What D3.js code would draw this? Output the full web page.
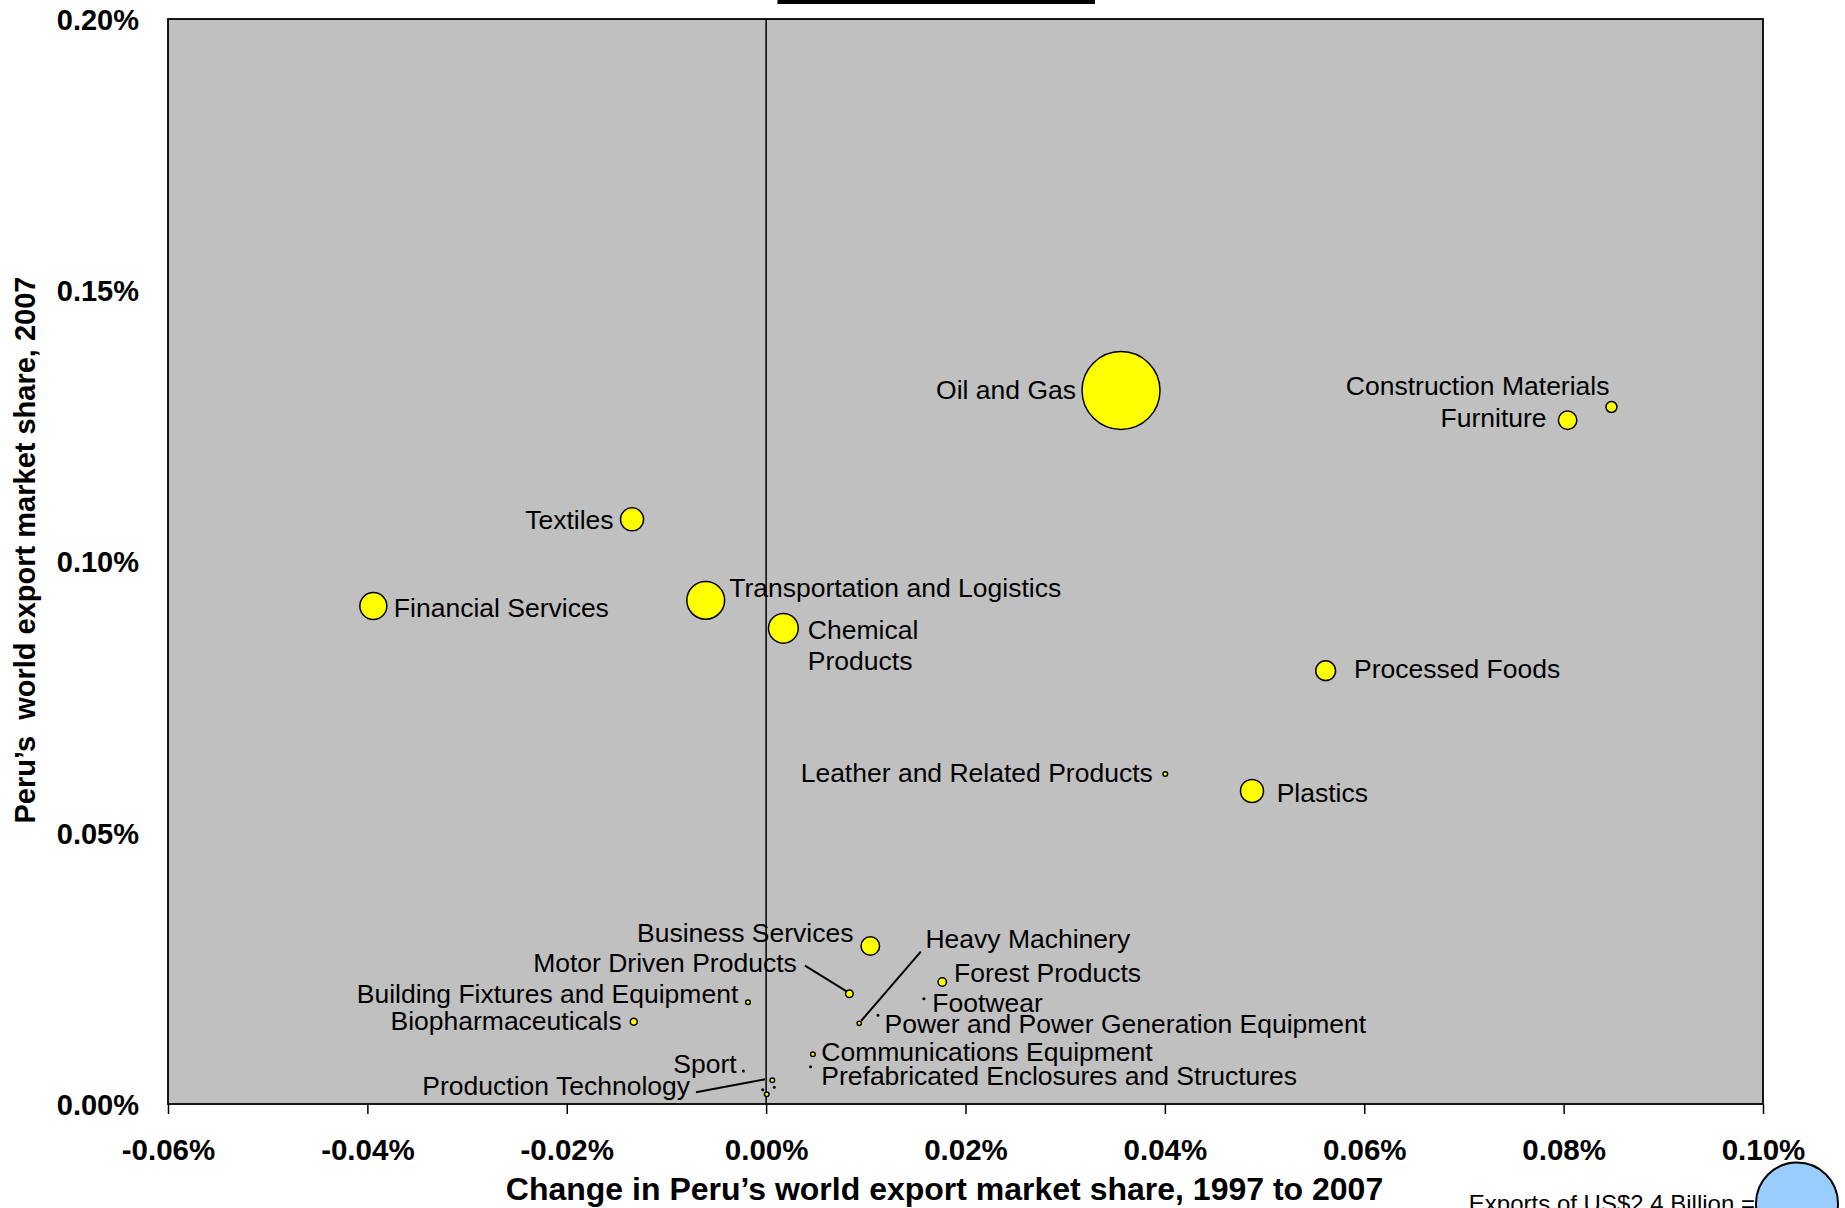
<!DOCTYPE html>
<html>
<head>
<meta charset="utf-8">
<script src="https://cdn.jsdelivr.net/npm/d3@7/dist/d3.min.js"></script>
<style>
  html, body { margin: 0; padding: 0; background: #ffffff; }
  svg { display: block; font-family: "Liberation Sans", Arial, sans-serif; }
</style>
</head>
<body>
<svg id="chart" width="1845" height="1208"></svg>
<script>
// Peru cluster bubble chart: 2007 world export share vs. change 1997-2007,
// bubble area proportional to exports (US$ billion).
const sectors = [
  "Oil and Gas", "Construction Materials", "Furniture", "Textiles",
  "Financial Services", "Transportation and Logistics", "Chemical Products",
  "Processed Foods", "Leather and Related Products", "Plastics",
  "Business Services", "Heavy Machinery", "Motor Driven Products",
  "Forest Products", "Footwear", "Power and Power Generation Equipment",
  "Communications Equipment", "Prefabricated Enclosures and Structures",
  "Building Fixtures and Equipment", "Biopharmaceuticals", "Sport",
  "Production Technology", "", "", ""
];
// Change in world export market share, 1997 to 2007 (percentage points)
const shareChange = [
  0.0356, 0.0848, 0.0804, -0.01345,
  -0.0394, -0.00606, 0.00173,
  0.05613, 0.04004, 0.04874,
  0.01045, 0.00934, 0.00835,
  0.01767, 0.01583, 0.01122,
  0.00469, 0.00446,
  -0.00182, -0.01328, -0.00229,
  0.00062, 0.00082, -0.00034, 0.00006
];
// World export market share, 2007 (%)
const share2007 = [
  0.13152, 0.12848, 0.12603, 0.10778,
  0.0918, 0.09285, 0.08769,
  0.07987, 0.06083, 0.0577,
  0.02912, 0.01488, 0.02033,
  0.02249, 0.01941, 0.01635,
  0.00916, 0.00688,
  0.01875, 0.01517, 0.00608,
  0.00437, 0.00308, 0.00264, 0.00179
];
// Exports, US$ billion
const exportsBn = [
  2.17, 0.043, 0.121, 0.189,
  0.26, 0.51, 0.317,
  0.14, 0.0076, 0.189,
  0.123, 0.0063, 0.0206,
  0.0252, 0.0009, 0.0009,
  0.0075, 0.0009,
  0.0075, 0.0175, 0.0009,
  0.0075, 0.0009, 0.0009, 0.0075
];
const xTicks = [-0.06, -0.04, -0.02, 0.00, 0.02, 0.04, 0.06, 0.08, 0.10];
const yTicks = [0.00, 0.05, 0.10, 0.15, 0.20];
const legendValue = 2.4;

// Label placement relative to each bubble centre (px)
const labelLayout = {
  "Oil and Gas": { anchor: "end", dx: -45, dy: 8 },
  "Construction Materials": { anchor: "end", dx: -2, dy: -12 },
  "Furniture": { anchor: "end", dx: -21, dy: 6.5 },
  "Textiles": { anchor: "end", dx: -18.5, dy: 10 },
  "Financial Services": { anchor: "start", dx: 20.5, dy: 10.7 },
  "Transportation and Logistics": { anchor: "start", dx: 23.5, dy: -3 },
  "Chemical Products": { anchor: "start", dx: 24.5, dy: 10.7, wrap: true, lineGap: 31.5 },
  "Processed Foods": { anchor: "start", dx: 28.3, dy: 7.6 },
  "Leather and Related Products": { anchor: "end", dx: -12.5, dy: 7.7 },
  "Plastics": { anchor: "start", dx: 24.7, dy: 10.7 },
  "Business Services": { anchor: "end", dx: -16.8, dy: -4.3 },
  "Heavy Machinery": { anchor: "start", dx: 66.2, dy: -75, leader: [2, -2.5, 61.6, -71.6] },
  "Motor Driven Products": { anchor: "end", dx: -52.6, dy: -22, leader: [-44.4, -28, -2.3, -2] },
  "Forest Products": { anchor: "start", dx: 11.8, dy: -0.3 },
  "Footwear": { anchor: "start", dx: 8.4, dy: 13 },
  "Power and Power Generation Equipment": { anchor: "start", dx: 6.5, dy: 18 },
  "Communications Equipment": { anchor: "start", dx: 8.4, dy: 6.7 },
  "Prefabricated Enclosures and Structures": { anchor: "start", dx: 10.7, dy: 18.3 },
  "Building Fixtures and Equipment": { anchor: "end", dx: -9.7, dy: 1 },
  "Biopharmaceuticals": { anchor: "end", dx: -12, dy: 8.3 },
  "Sport": { anchor: "end", dx: -6.6, dy: 2.3 },
  "Production Technology": { anchor: "end", dx: -82.3, dy: 14.7, leader: [-76.3, 12, -7.3, -1] }
};

const plot = { left: 168, right: 1763, top: 19, bottom: 1104 };

const svg = d3.select("#chart");

const x = d3.scaleLinear().domain([-0.06, 0.10]).range([plot.left, plot.right]);
const y = d3.scaleLinear().domain([0, 0.20]).range([plot.bottom, plot.top]);
const r = d3.scaleSqrt().domain([0, legendValue]).range([0, 41]);

const pctFmt = d => (d < -1e-9 ? "-" : "") + Math.abs(d).toFixed(2) + "%";

// title box edge at the very top
svg.append("rect")
  .attr("x", 777.5).attr("y", 0).attr("width", 317.5).attr("height", 4)
  .attr("fill", "#000");

// plot background
svg.append("rect")
  .attr("x", plot.left).attr("y", plot.top)
  .attr("width", plot.right - plot.left).attr("height", plot.bottom - plot.top)
  .attr("fill", "#c0c0c0");

// vertical reference line at zero change
svg.append("line")
  .attr("x1", x(0)).attr("x2", x(0))
  .attr("y1", plot.top).attr("y2", plot.bottom)
  .attr("stroke", "#000").attr("stroke-width", 1.5);

// axes
const xAxis = svg.append("g")
  .attr("transform", `translate(0,${plot.bottom})`)
  .call(d3.axisBottom(x).tickValues(xTicks).tickFormat(pctFmt).tickSize(10).tickPadding(25));
xAxis.select(".domain").remove();
xAxis.selectAll(".tick line").attr("stroke", "#000").attr("stroke-width", 1.5);
xAxis.selectAll(".tick text")
  .attr("fill", "#000")
  .style("font-family", "'Liberation Sans', Arial, sans-serif")
  .style("font-size", "29.5px").style("font-weight", "bold");

const yAxis = svg.append("g")
  .attr("transform", `translate(${plot.left},0)`)
  .call(d3.axisLeft(y).tickValues(yTicks).tickFormat(pctFmt).tickSize(0).tickPadding(29));
yAxis.select(".domain").remove();
yAxis.selectAll(".tick text")
  .attr("fill", "#000")
  .attr("dy", "0.36em")
  .style("font-family", "'Liberation Sans', Arial, sans-serif")
  .style("font-size", "29px").style("font-weight", "bold");

// plot frame
svg.append("rect")
  .attr("x", plot.left).attr("y", plot.top)
  .attr("width", plot.right - plot.left).attr("height", plot.bottom - plot.top)
  .attr("fill", "none").attr("stroke", "#000").attr("stroke-width", 1.8);

// axis titles
svg.append("text")
  .attr("x", 944.5).attr("y", 1200)
  .attr("text-anchor", "middle")
  .style("font-size", "32px").style("font-weight", "bold")
  .text("Change in Peru\u2019s world export market share, 1997 to 2007");

svg.append("text")
  .attr("transform", "translate(35,550) rotate(-90)")
  .attr("text-anchor", "middle")
  .style("font-size", "29px").style("font-weight", "bold")
  .style("white-space", "pre")
  .text("Peru\u2019s  world export market share, 2007");

// bubbles
const rows = sectors.map((name, i) => ({
  name, dx: shareChange[i], share: share2007[i], value: exportsBn[i]
}));

const bubbles = svg.append("g");
bubbles.selectAll("circle")
  .data(rows.slice().sort((a, b) => b.value - a.value))
  .join("circle")
  .attr("cx", d => x(d.dx))
  .attr("cy", d => y(d.share))
  .attr("r", d => r(d.value))
  .attr("fill", "#ffff00")
  .attr("stroke", "#000")
  .attr("stroke-width", 1.5);

// leader lines and labels
const labels = svg.append("g")
  .style("font-size", "26.5px")
  .attr("fill", "#000");

rows.filter(d => d.name && labelLayout[d.name]).forEach(d => {
  const L = labelLayout[d.name];
  const cx = x(d.dx), cy = y(d.share);
  if (L.leader) {
    labels.append("line")
      .attr("x1", cx + L.leader[0]).attr("y1", cy + L.leader[1])
      .attr("x2", cx + L.leader[2]).attr("y2", cy + L.leader[3])
      .attr("stroke", "#000").attr("stroke-width", 2);
  }
  const t = labels.append("text")
    .attr("x", cx + L.dx).attr("y", cy + L.dy)
    .attr("text-anchor", L.anchor);
  if (L.wrap) {
    d.name.split(" ").forEach((w, k) => {
      t.append("tspan").attr("x", cx + L.dx).attr("y", cy + L.dy + k * L.lineGap).text(w);
    });
  } else {
    t.text(d.name);
  }
});

// size legend
svg.append("circle")
  .attr("cx", 1797).attr("cy", 1203.5)
  .attr("r", r(legendValue))
  .attr("fill", "#99ccff")
  .attr("stroke", "#000").attr("stroke-width", 2);

svg.append("text")
  .attr("x", 1755).attr("y", 1211.5)
  .attr("text-anchor", "end")
  .style("font-size", "24px")
  .text(`Exports of US$${legendValue} Billion =`);
</script>
</body>
</html>
